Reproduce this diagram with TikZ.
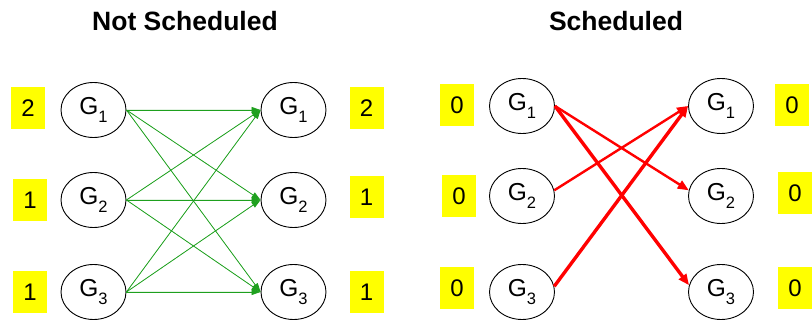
\documentclass[tikz,border=0pt]{standalone}
\usepackage{fontspec}
\setmainfont{Liberation Sans}
\usetikzlibrary{shapes.geometric,arrows.meta}
\definecolor{arrgreen}{RGB}{30,160,30}
\definecolor{boxyellow}{RGB}{255,255,0}
\newcommand{\gsub}[1]{G\raisebox{-0.34em}{\fontsize{16.5}{16.5}\selectfont #1}}
\begin{document}
\begin{tikzpicture}[x=1pt,y=-1pt,
  gnode/.style={draw,ellipse,fill=white,minimum width=65pt,minimum height=55pt,inner sep=0pt,line width=0.9pt,font=\fontsize{24.5}{24.5}\selectfont},
  valbox/.style={fill=boxyellow,minimum width=34pt,minimum height=42pt,inner sep=0pt,font=\fontsize{24}{24}\selectfont},
  title/.style={font=\fontsize{26.5}{26.5}\selectfont\bfseries},
  garr/.style={draw=arrgreen,line width=0.8pt,-{Triangle[length=9pt,width=6pt]},fill=arrgreen},
  rthin/.style={draw=red,line width=2.4pt,-{Triangle[length=11pt,width=9pt]}},
  rthick/.style={draw=red,line width=3.4pt,-{Triangle[length=11pt,width=9pt]}}]
\useasboundingbox (0,0) rectangle (812,320);
% titles
\node[title] (t1) at (185,21) {Not Scheduled};
\node[title] (t2) at (616,21) {Scheduled};
% left group
\node[gnode] (a1) at (93.5,110) {\gsub{1}};
\node[gnode] (a2) at (93.5,200) {\gsub{2}};
\node[gnode] (a3) at (93.5,292) {\gsub{3}};
\node[gnode] (b1) at (293.5,110) {\gsub{1}};
\node[gnode] (b2) at (293.5,200) {\gsub{2}};
\node[gnode] (b3) at (293.5,292) {\gsub{3}};
\node[valbox] (va1) at (28,108) {2};
\node[valbox] (va2) at (30,200) {1};
\node[valbox] (va3) at (30,292) {1};
\node[valbox] (vb1) at (366.5,108) {2};
\node[valbox] (vb2) at (366.5,197) {1};
\node[valbox] (vb3) at (366.5,292.5) {1};
\foreach \s in {1,2,3}{
  \foreach \t in {1,2,3}{
    \draw[garr] (a\s.east) -- (b\t.west);
  }
}
% right group
\node[gnode] (c1) at (522,106) {\gsub{1}};
\node[gnode] (c2) at (522,196) {\gsub{2}};
\node[gnode] (c3) at (522,292) {\gsub{3}};
\node[gnode] (d1) at (721,106) {\gsub{1}};
\node[gnode] (d2) at (721,196) {\gsub{2}};
\node[gnode] (d3) at (721,292) {\gsub{3}};
\node[valbox] (vc1) at (457,105) {0};
\node[valbox] (vc2) at (459,196) {0};
\node[valbox] (vc3) at (457,288) {0};
\node[valbox] (vd1) at (792,105) {0};
\node[valbox] (vd2) at (795,193) {0};
\node[valbox] (vd3) at (795,288) {0};
\draw[rthin] (c1.east) -- (d2.170);
\draw[rthick] (c1.east) -- (d3.168);
\draw[rthin] (c2.10) -- (d1.west);
\draw[rthick] (c3.10) -- (d1.west);
\end{tikzpicture}
\end{document}
